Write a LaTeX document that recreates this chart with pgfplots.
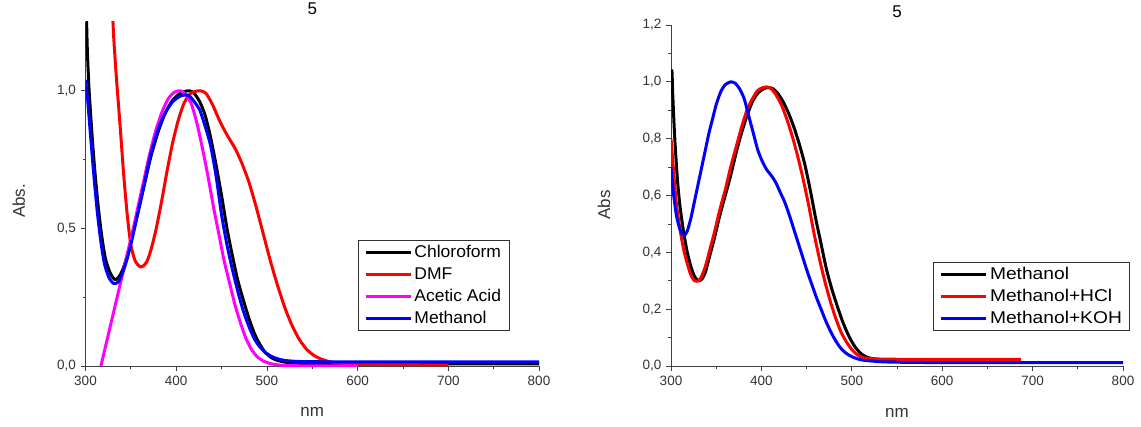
\documentclass[border=0pt]{standalone}
\usepackage{fontspec}
\setmainfont{Liberation Sans}
\usepackage{pgfplots}
\pgfplotsset{compat=1.18}
\definecolor{mag}{RGB}{255,0,255}
\definecolor{rd}{RGB}{255,0,0}
\definecolor{bl}{RGB}{0,0,255}

\pgfplotsset{
  uvaxis/.style={
    scale only axis, anchor=south west,
    xmin=300, xmax=800, ymin=0,
    axis x line=bottom, axis y line=left,
    axis line style={-, line width=0.9pt, black!75},
    tick align=outside, tick style={black!75, line width=0.8pt},
    major tick length=5pt, minor tick length=3pt,
    xtick={300,400,...,800}, minor xtick={350,450,...,750},
    tick label style={font=\fontsize{13.5}{14}\selectfont, black!80},
    /pgf/number format/assume math mode=true,
    xticklabel style={yshift=-2pt},
    yticklabel style={xshift=-1pt, /pgf/number format/.cd, fixed, fixed zerofill, precision=1, use comma},
    label style={font=\fontsize{17}{18}\selectfont, black!80},
    title style={font=\fontsize{17}{18}\selectfont, at={(0.5,1)}, anchor=base, yshift=1pt},
    legend cell align=left,
    legend style={draw=black!80, line width=0.9pt, inner xsep=6pt, inner ysep=1pt, anchor=north west,
      font=\fontsize{17}{18}\selectfont,
      nodes={text height=12.5pt, text depth=3pt, inner ysep=3.25pt}},
    legend image code/.code={\draw[line width=3.4pt] (0pt,0pt) -- (45pt,0pt);},
    every axis plot/.append style={line width=3pt, line join=round, smooth, tension=0.4},
  }
}

\begin{document}
\begin{tikzpicture}
\useasboundingbox (0,0) rectangle (1141pt,426pt);

% left panel: solvents
\begin{axis}[uvaxis, at={(85.5pt,60pt)}, width=453.5pt, height=344pt,
  ymax=1.25, ytick={0,0.5,1}, minor ytick={0.25,0.75},
  title={5}, xlabel={nm}, ylabel={Abs.},
  xlabel style={at={(axis description cs:0.5,-0.134)}, anchor=center},
  ylabel style={at={(axis description cs:-0.147,0.48)}, anchor=center},
  legend style={at={(0.6,0.366)}, font=\fontsize{17}{18}\selectfont\addfontfeature{FakeStretch=1.03}}]
\addplot[black] coordinates {(300.5,1.35) (302,1.15) (304,1.0) (307,0.85) (310,0.72) (314,0.58) (318,0.47)
  (322,0.39) (327,0.34) (332,0.315) (336,0.32) (341,0.35) (346,0.40) (352,0.48) (358,0.56) (365,0.66)
  (372,0.76) (380,0.85) (388,0.92) (396,0.965) (404,0.99) (410,0.998) (415,1.0) (420,0.99) (426,0.96)
  (432,0.91) (438,0.83) (444,0.73) (450,0.62) (456,0.50) (462,0.40) (468,0.31) (474,0.24) (480,0.175)
  (486,0.12) (492,0.08) (498,0.05) (505,0.03) (512,0.02) (520,0.014) (535,0.01) (560,0.008) (600,0.008)
  (700,0.008) (800,0.008)};
\addlegendentry{Chloroform}
\addplot[rd] coordinates {(329,1.35) (331,1.2) (334,1.05) (338,0.88) (342,0.70) (346,0.55) (350,0.44)
  (355,0.38) (361,0.36) (367,0.375) (372,0.42) (378,0.50) (384,0.60) (390,0.71) (396,0.81) (402,0.89)
  (408,0.95) (414,0.985) (420,0.997) (427,1.0) (433,0.99) (440,0.95) (448,0.89) (456,0.84) (465,0.79)
  (472,0.74) (480,0.67) (488,0.58) (496,0.48) (504,0.38) (512,0.29) (520,0.21) (528,0.145) (536,0.095)
  (544,0.06) (552,0.038) (560,0.025) (570,0.015) (585,0.009) (600,0.006) (700,0.004)};
\addlegendentry{DMF}
\addplot[mag] coordinates {(317,0) (322,0.07) (327,0.14) (332,0.21) (337,0.28) (342,0.35) (347,0.42)
  (352,0.49) (358,0.58) (364,0.67) (370,0.76) (377,0.85) (384,0.92) (391,0.97) (398,0.995) (405,1.0)
  (411,0.985) (417,0.95) (423,0.88) (429,0.79) (435,0.69) (441,0.58) (447,0.48) (453,0.38) (459,0.30)
  (465,0.22) (471,0.155) (477,0.10) (483,0.06) (489,0.035) (496,0.018) (505,0.008) (515,0.003) (530,0.001)
  (600,0.0)};
\addlegendentry{Acetic Acid}
\addplot[bl] coordinates {(300,1.04) (302,0.98) (305,0.86) (309,0.70) (313,0.56) (317,0.45) (321,0.37)
  (326,0.32) (331,0.30) (336,0.305) (341,0.34) (346,0.39) (352,0.47) (358,0.56) (365,0.665) (372,0.77)
  (380,0.86) (388,0.92) (396,0.96) (404,0.98) (410,0.985) (415,0.98) (420,0.96) (426,0.93) (432,0.87)
  (438,0.80) (444,0.69) (450,0.55) (456,0.44) (462,0.35) (468,0.27) (474,0.20) (480,0.145) (486,0.10)
  (492,0.07) (498,0.05) (505,0.035) (512,0.026) (520,0.02) (540,0.016) (600,0.015) (700,0.015) (800,0.015)};
\addlegendentry{Methanol}
\end{axis}

% right panel: methanol, acid and base
\begin{axis}[uvaxis, at={(671pt,60pt)}, width=452pt, height=341pt,
  ymax=1.2, ytick={0,0.2,...,1.2}, minor y tick num=1,
  title={5}, xlabel={nm}, ylabel={Abs},
  xlabel style={at={(axis description cs:0.5,-0.138)}, anchor=center},
  ylabel style={at={(axis description cs:-0.148,0.472)}, anchor=center},
  legend style={at={(0.58,0.305)}, font=\fontsize{17}{18}\selectfont\addfontfeature{FakeStretch=1.13}}]
\addplot[black] coordinates {(300,1.0) (301,1.04) (302,0.95) (304,0.81) (307,0.66) (310,0.56) (314,0.47)
  (318,0.40) (322,0.35) (326,0.315) (330,0.30) (334,0.305) (338,0.33) (343,0.39) (348,0.45) (354,0.53)
  (360,0.60) (366,0.67) (372,0.75) (378,0.82) (384,0.88) (390,0.93) (396,0.96) (402,0.975) (408,0.98)
  (413,0.975) (418,0.96) (424,0.93) (430,0.89) (436,0.84) (442,0.78) (448,0.71) (454,0.62) (460,0.52)
  (466,0.43) (472,0.34) (478,0.27) (484,0.21) (490,0.155) (496,0.11) (502,0.075) (508,0.05) (514,0.035)
  (520,0.028) (530,0.023) (550,0.02) (600,0.02) (685,0.02)};
\addlegendentry{Methanol}
\addplot[rd] coordinates {(300,0.80) (303,0.68) (306,0.57) (310,0.48) (314,0.41) (318,0.36) (322,0.32)
  (326,0.30) (329,0.298) (333,0.31) (338,0.35) (343,0.41) (348,0.47) (354,0.55) (360,0.62) (366,0.70)
  (372,0.77) (378,0.84) (384,0.90) (390,0.94) (396,0.97) (402,0.98) (406,0.982) (411,0.975) (416,0.955)
  (422,0.92) (428,0.87) (434,0.81) (440,0.74) (446,0.66) (452,0.57) (458,0.47) (464,0.38) (470,0.30)
  (476,0.23) (482,0.17) (488,0.12) (494,0.085) (500,0.058) (506,0.04) (512,0.03) (520,0.026) (540,0.024)
  (600,0.023) (687,0.023)};
\addlegendentry{Methanol+HCl}
\addplot[bl] coordinates {(300,0.70) (303,0.60) (306,0.53) (309,0.49) (312,0.465) (315,0.46) (318,0.475)
  (322,0.52) (326,0.58) (330,0.64) (334,0.70) (338,0.76) (342,0.82) (346,0.87) (350,0.92) (355,0.965)
  (360,0.99) (366,1.0) (371,0.995) (376,0.975) (381,0.94) (386,0.88) (391,0.82) (396,0.76) (401,0.72)
  (406,0.69) (411,0.67) (416,0.645) (421,0.61) (426,0.575) (431,0.53) (436,0.48) (441,0.43) (446,0.38)
  (451,0.33) (456,0.285) (461,0.24) (466,0.20) (471,0.16) (476,0.125) (481,0.095) (486,0.07) (491,0.052)
  (496,0.04) (502,0.03) (510,0.022) (520,0.018) (540,0.014) (600,0.012) (800,0.012)};
\addlegendentry{Methanol+KOH}
\end{axis}
\end{tikzpicture}
\end{document}
